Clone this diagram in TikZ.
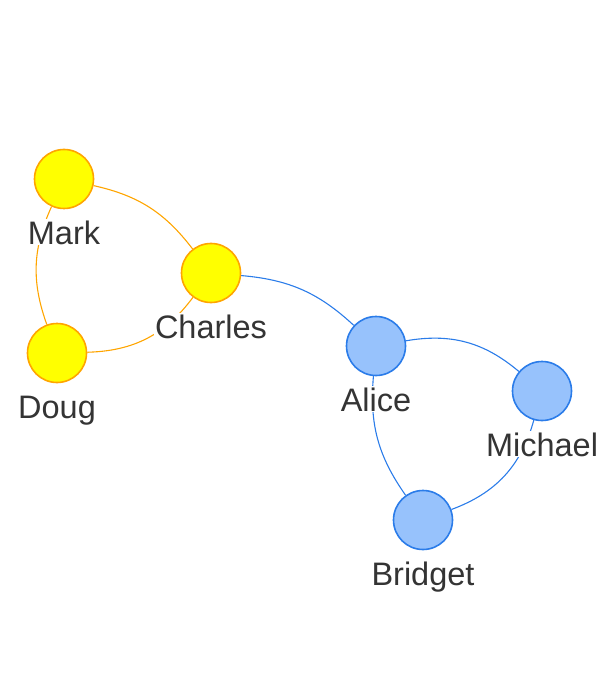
\documentclass[tikz,border=0pt]{standalone}
\usepackage{fontspec}
\setmainfont{Liberation Sans}
\usepackage{tikz}
\pgfdeclarelayer{background}
\pgfsetlayers{background,main}
\definecolor{visyellow}{HTML}{FFFF00}
\definecolor{visorange}{HTML}{FFA500}
\definecolor{visblue}{HTML}{97C2FC}
\definecolor{visborder}{HTML}{2B7CE9}
\definecolor{vistext}{HTML}{343434}
\tikzset{
  person/.style={circle, minimum size=59pt, inner sep=0pt, line width=1.6pt},
  yellowp/.style={person, draw=visorange, fill=visyellow},
  bluep/.style={person, draw=visborder, fill=visblue},
  personlabel/.style={anchor=base, fill=white, inner sep=1pt, text=vistext,
    font=\fontsize{32.5}{38}\selectfont},
  orangeedge/.style={draw=visorange, line width=1.1pt},
  blueedge/.style={draw=visborder, line width=1.1pt}
}

\begin{document}
\begin{tikzpicture}[x=1pt, y=-1pt]
		%%%%% START %%%%%
		\useasboundingbox (0, 0) rectangle (600, 700);
		
		% people
		\node[yellowp] (mark) at (64, 179) {};
		\node[yellowp] (charles) at (211, 273) {};
		\node[yellowp] (doug) at (57, 353) {};
		\node[bluep] (alice) at (376, 346) {};
		\node[bluep] (michael) at (542, 391) {};
		\node[bluep] (bridget) at (423, 520) {};
		
		% edges go under the circles
		\begin{pgfonlayer}{background}
		\draw[orangeedge] (mark) to[bend left=20] (charles);
		\draw[orangeedge] (mark) to[bend right=22] (doug);
		\draw[orangeedge] (doug) to[bend right=26] (charles);
		\draw[blueedge] (charles) to[bend left=19] (alice);
		\draw[blueedge] (alice) to[bend left=25] (michael);
		\draw[blueedge] (michael) to[bend left=27] (bridget);
		\draw[blueedge] (alice) to[bend right=20] (bridget);
		\end{pgfonlayer}
		
		% names
		\node[personlabel] (markl) at (64, 244) {Mark};
		\node[personlabel] (charlesl) at (211, 338) {Charles};
		\node[personlabel] (dougl) at (57, 418) {Doug};
		\node[personlabel] (alicel) at (376, 411) {Alice};
		\node[personlabel] (michaell) at (542, 456) {Michael};
		\node[personlabel] (bridgetl) at (423, 585) {Bridget};
		
		%%%%% END %%%%%
	\end{tikzpicture}
\end{document}
